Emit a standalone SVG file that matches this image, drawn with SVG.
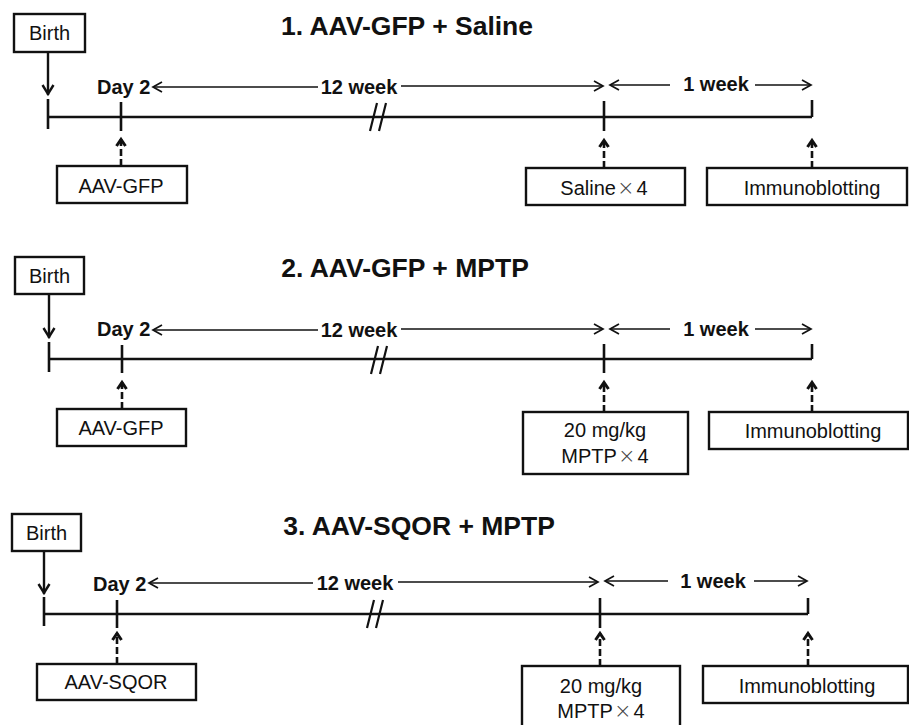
<svg xmlns="http://www.w3.org/2000/svg" width="909" height="725" viewBox="0 0 909 725">
  <style>
    .box { fill: #ffffff; stroke: #111111; stroke-width: 2.4; }
    .lbl { font-family: "Liberation Sans", Arial, sans-serif; font-size: 20px; fill: #111111; text-anchor: middle; }
    .bold { font-family: "Liberation Sans", Arial, sans-serif; font-size: 20px; font-weight: bold; fill: #111111; }
    .title { font-family: "Liberation Sans", Arial, sans-serif; font-size: 26.5px; font-weight: bold; fill: #111111; text-anchor: middle; }
    .times { font-weight: 200; font-family: "DejaVu Sans", "Liberation Sans", sans-serif; font-size: 21px; fill: #444444; }
    .axis { stroke: #111111; stroke-width: 2.6; fill: none; }
    .tick { stroke: #111111; stroke-width: 2.6; fill: none; }
    .brk { stroke: #111111; stroke-width: 2.2; fill: none; }
    .span { stroke: #111111; stroke-width: 1.6; fill: none; }
    .down { stroke: #111111; stroke-width: 2.4; fill: none; }
    .dash { stroke: #111111; stroke-width: 2.6; fill: none; stroke-dasharray: 7 3; }
  </style>
  <defs>
    <marker id="open" markerUnits="userSpaceOnUse" markerWidth="12" markerHeight="12" refX="10" refY="6" orient="auto-start-reverse" viewBox="0 0 12 12">
      <path d="M1,1 L10,6 L1,11" fill="none" stroke="#111111" stroke-width="1.7"/>
    </marker>
    <marker id="down" markerUnits="userSpaceOnUse" markerWidth="14" markerHeight="14" refX="12" refY="7" orient="auto" viewBox="0 0 14 14">
      <path d="M2,1.5 L11,7 L2,12.5" fill="none" stroke="#111111" stroke-width="2.4"/>
    </marker>
    <marker id="up" markerUnits="userSpaceOnUse" markerWidth="12" markerHeight="12" refX="9" refY="6" orient="auto" viewBox="0 0 12 12">
      <path d="M2,1.5 L8.5,6 L2,10.5" fill="none" stroke="#111111" stroke-width="3"/>
    </marker>
  </defs>

  <!-- titles -->
  <text class="title" x="407" y="35">1. AAV-GFP + Saline</text>
  <text class="title" x="405" y="277">2. AAV-GFP + MPTP</text>
  <text class="title" x="419" y="535">3. AAV-SQOR + MPTP</text>

  <!-- timelines, ticks and break marks -->
  <g id="timelines">
    <line class="axis" x1="48" y1="117" x2="812" y2="117"/>
    <line class="tick" x1="48" y1="99" x2="48" y2="129"/>
    <line class="tick" x1="121" y1="102" x2="121" y2="131"/>
    <line class="tick" x1="604" y1="101" x2="604" y2="131"/>
    <line class="tick" x1="812" y1="100" x2="812" y2="117"/>
    <line class="brk" x1="377" y1="103" x2="370" y2="131"/>
    <line class="brk" x1="386" y1="103" x2="379" y2="131"/>

    <line class="axis" x1="49" y1="359" x2="812" y2="359"/>
    <line class="tick" x1="49" y1="342" x2="49" y2="372"/>
    <line class="tick" x1="122" y1="345" x2="122" y2="373"/>
    <line class="tick" x1="604" y1="344" x2="604" y2="373"/>
    <line class="tick" x1="812" y1="344" x2="812" y2="359"/>
    <line class="brk" x1="378" y1="346" x2="371" y2="374"/>
    <line class="brk" x1="387" y1="346" x2="380" y2="374"/>

    <line class="axis" x1="44" y1="614" x2="808" y2="614"/>
    <line class="tick" x1="44" y1="597" x2="44" y2="626"/>
    <line class="tick" x1="117" y1="600" x2="117" y2="628"/>
    <line class="tick" x1="600" y1="598" x2="600" y2="628"/>
    <line class="tick" x1="808" y1="598" x2="808" y2="614"/>
    <line class="brk" x1="374" y1="600" x2="367" y2="628"/>
    <line class="brk" x1="383" y1="600" x2="376" y2="628"/>
  </g>

  <!-- period labels -->
  <g id="periods">
    <text class="bold" x="97" y="94">Day 2</text>
    <text class="bold" x="359" y="94" text-anchor="middle">12 week</text>
    <text class="bold" x="716" y="91" text-anchor="middle">1 week</text>

    <text class="bold" x="97" y="336">Day 2</text>
    <text class="bold" x="359" y="337" text-anchor="middle">12 week</text>
    <text class="bold" x="716" y="336" text-anchor="middle">1 week</text>

    <text class="bold" x="93" y="591">Day 2</text>
    <text class="bold" x="355" y="590" text-anchor="middle">12 week</text>
    <text class="bold" x="713" y="588" text-anchor="middle">1 week</text>
  </g>

  <!-- connectors -->
  <g id="connectors">
    <!-- panel 1 -->
    <line class="down" x1="48" y1="52" x2="48" y2="95" marker-end="url(#down)"/>
    <line class="span" x1="318" y1="87" x2="153" y2="87" marker-end="url(#open)"/>
    <line class="span" x1="401" y1="86" x2="603" y2="86" marker-end="url(#open)"/>
    <line class="span" x1="670" y1="85" x2="610" y2="85" marker-end="url(#open)"/>
    <line class="span" x1="755" y1="85" x2="811" y2="85" marker-end="url(#open)"/>
    <line class="dash" x1="121" y1="166" x2="121" y2="139" marker-end="url(#up)"/>
    <line class="dash" x1="604" y1="168" x2="604" y2="140" marker-end="url(#up)"/>
    <line class="dash" x1="812" y1="168" x2="812" y2="140" marker-end="url(#up)"/>

    <!-- panel 2 -->
    <line class="down" x1="49" y1="294" x2="49" y2="338" marker-end="url(#down)"/>
    <line class="span" x1="318" y1="330" x2="153" y2="330" marker-end="url(#open)"/>
    <line class="span" x1="401" y1="329" x2="603" y2="329" marker-end="url(#open)"/>
    <line class="span" x1="670" y1="329" x2="610" y2="329" marker-end="url(#open)"/>
    <line class="span" x1="755" y1="329" x2="811" y2="329" marker-end="url(#open)"/>
    <line class="dash" x1="122" y1="409" x2="122" y2="382" marker-end="url(#up)"/>
    <line class="dash" x1="604" y1="412" x2="604" y2="382" marker-end="url(#up)"/>
    <line class="dash" x1="812" y1="412" x2="812" y2="382" marker-end="url(#up)"/>

    <!-- panel 3 -->
    <line class="down" x1="44" y1="551" x2="44" y2="594" marker-end="url(#down)"/>
    <line class="span" x1="313" y1="583" x2="149" y2="583" marker-end="url(#open)"/>
    <line class="span" x1="398" y1="582" x2="598" y2="582" marker-end="url(#open)"/>
    <line class="span" x1="668" y1="581" x2="605" y2="581" marker-end="url(#open)"/>
    <line class="span" x1="754" y1="581" x2="807" y2="581" marker-end="url(#open)"/>
    <line class="dash" x1="117" y1="664" x2="117" y2="633" marker-end="url(#up)"/>
    <line class="dash" x1="600" y1="666" x2="600" y2="633" marker-end="url(#up)"/>
    <line class="dash" x1="808" y1="666" x2="808" y2="633" marker-end="url(#up)"/>
  </g>

  <!-- panel 1 nodes -->
  <g id="birth-1">
    <rect class="box" x="14" y="14" width="71" height="38"/>
    <text class="lbl" x="49.5" y="40">Birth</text>
  </g>
  <g id="aav-gfp-1">
    <rect class="box" x="57" y="166" width="130" height="37"/>
    <text class="lbl" x="121" y="193">AAV-GFP</text>
  </g>
  <g id="saline-1">
    <rect class="box" x="526" y="168" width="159" height="37"/>
    <text class="lbl" x="604" y="195">Saline<tspan class="times" dx="1">×</tspan><tspan dx="2">4</tspan></text>
  </g>
  <g id="immunoblotting-1">
    <rect class="box" x="707" y="168" width="200" height="37"/>
    <text class="lbl" x="812" y="195">Immunoblotting</text>
  </g>

  <!-- panel 2 nodes -->
  <g id="birth-2">
    <rect class="box" x="15" y="257" width="69" height="37"/>
    <text class="lbl" x="49.5" y="283">Birth</text>
  </g>
  <g id="aav-gfp-2">
    <rect class="box" x="57" y="409" width="129" height="37"/>
    <text class="lbl" x="121" y="435">AAV-GFP</text>
  </g>
  <g id="mptp-2">
    <rect class="box" x="523" y="412" width="165" height="62"/>
    <text class="lbl" x="605" y="437">20 mg/kg</text>
    <text class="lbl" x="605" y="463">MPTP<tspan class="times" dx="1">×</tspan><tspan dx="2">4</tspan></text>
  </g>
  <g id="immunoblotting-2">
    <rect class="box" x="709" y="412" width="199" height="37"/>
    <text class="lbl" x="813" y="438">Immunoblotting</text>
  </g>

  <!-- panel 3 nodes -->
  <g id="birth-3">
    <rect class="box" x="12" y="514" width="69" height="37"/>
    <text class="lbl" x="46.5" y="540">Birth</text>
  </g>
  <g id="aav-sqor-3">
    <rect class="box" x="37" y="664" width="159" height="36"/>
    <text class="lbl" x="116" y="689">AAV-SQOR</text>
  </g>
  <g id="mptp-3">
    <rect class="box" x="522" y="666" width="158" height="72"/>
    <text class="lbl" x="601" y="693">20 mg/kg</text>
    <text class="lbl" x="601" y="718">MPTP<tspan class="times" dx="1">×</tspan><tspan dx="2">4</tspan></text>
  </g>
  <g id="immunoblotting-3">
    <rect class="box" x="703" y="666" width="205" height="37"/>
    <text class="lbl" x="807" y="693">Immunoblotting</text>
  </g>
</svg>
